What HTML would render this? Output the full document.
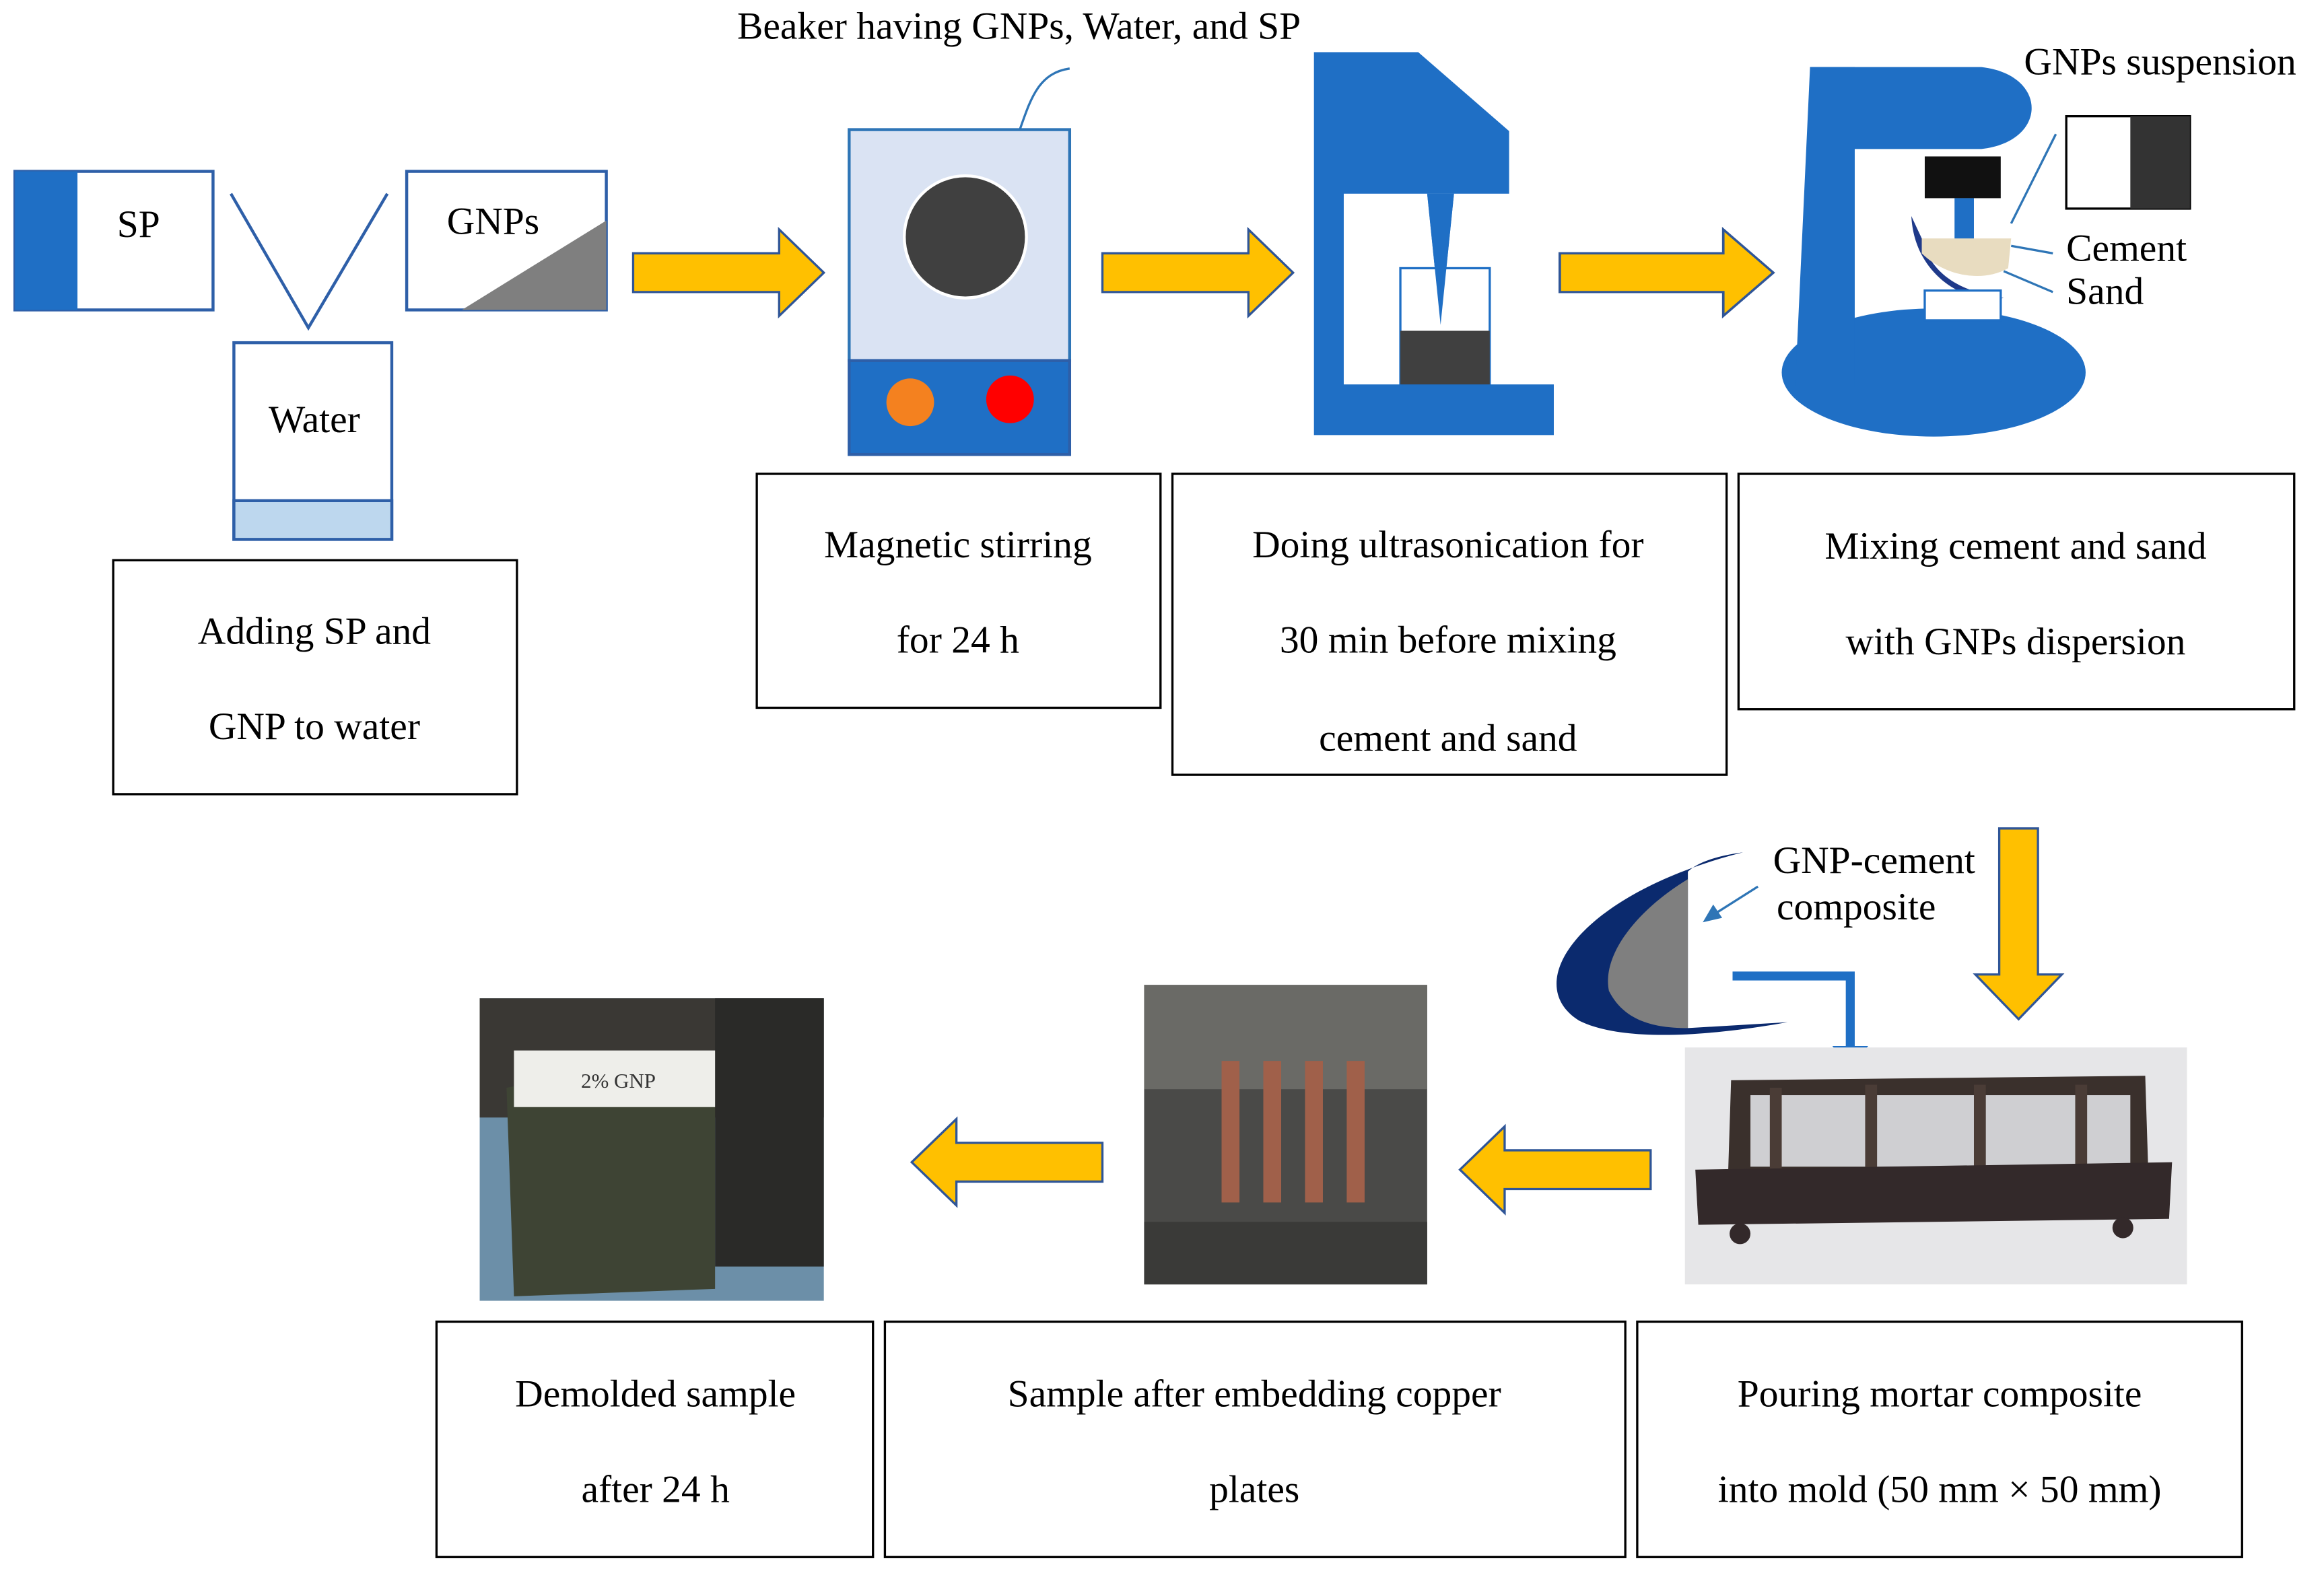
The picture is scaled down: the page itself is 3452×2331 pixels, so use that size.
<!DOCTYPE html>
<html><head><meta charset="utf-8"><style>html,body{margin:0;padding:0;background:#fff;}svg{display:block}</style></head>
<body>
<svg width="3452" height="2331" viewBox="0 0 1560 1053" preserveAspectRatio="none" xmlns="http://www.w3.org/2000/svg" font-family="'Liberation Serif', serif" font-size="26" fill="#000">
<defs>
<g id="arR"><polygon points="0,-13 98,-13 98,-29 128,0 98,29 98,13 0,13" fill="#FFC000" stroke="#2F5597" stroke-width="1.5"/></g>
</defs>
<rect width="1560" height="1053" fill="#fff"/>
<!-- SP -->
<rect x="10" y="115" width="133" height="93" fill="#fff" stroke="#2E5FA8" stroke-width="2"/>
<rect x="10" y="115" width="42" height="93" fill="#1F6FC5"/>
<text x="93" y="159" text-anchor="middle">SP</text>
<polyline points="155,130 207,220 260,130" fill="none" stroke="#2E5FA8" stroke-width="2"/>
<!-- GNPs -->
<rect x="273" y="115" width="134" height="93" fill="#fff" stroke="#2E5FA8" stroke-width="2"/>
<polygon points="310,208 407,208 407,148" fill="#7F7F7F"/>
<text x="331" y="157" text-anchor="middle">GNPs</text>
<!-- Water -->
<rect x="157" y="230" width="106" height="132" fill="#fff" stroke="#2E5FA8" stroke-width="2"/>
<rect x="157" y="336" width="106" height="26" fill="#BDD7EE" stroke="#2E5FA8" stroke-width="2"/>
<text x="211" y="290" text-anchor="middle">Water</text>
<rect x="76" y="376" width="271" height="157" fill="none" stroke="#000" stroke-width="1.5"/>
<text x="211" y="432" text-anchor="middle">Adding SP and</text>
<text x="211" y="496" text-anchor="middle">GNP to water</text>
<!-- arrows -->
<use href="#arR" transform="translate(425,183)"/>
<use href="#arR" transform="translate(740,183)"/>
<g transform="translate(1047,183) scale(1.12,1)"><use href="#arR"/></g>
<!-- stirrer -->
<text x="684" y="26" text-anchor="middle">Beaker having GNPs, Water, and SP</text>
<path d="M718,46 C690,50 690,80 676,108" fill="none" stroke="#2E75B6" stroke-width="1.5"/>
<polygon points="670,112 672,98 684,104" fill="#2E75B6"/>
<rect x="570" y="87" width="148" height="155" fill="#DAE3F3" stroke="#2E75B6" stroke-width="2"/>
<rect x="570" y="242" width="148" height="63" fill="#1F6FC5" stroke="#2E5FA8" stroke-width="2"/>
<circle cx="648" cy="159" r="41" fill="#404040" stroke="#fff" stroke-width="2"/>
<circle cx="611" cy="270" r="16" fill="#F4811F"/>
<circle cx="678" cy="268" r="16" fill="#FF0000"/>
<rect x="508" y="318" width="271" height="157" fill="none" stroke="#000" stroke-width="1.5"/>
<text x="643" y="374" text-anchor="middle">Magnetic stirring</text>
<text x="643" y="438" text-anchor="middle">for 24 h</text>
<!-- sonicator -->
<polygon points="882,35 952,35 1013,88 1013,130 902,130 902,258 1043,258 1043,292 882,292" fill="#1F6FC5"/>
<polygon points="958,130 976,130 967,218" fill="#1F6FC5"/>
<rect x="940" y="180" width="60" height="78" fill="#fff" stroke="#1F6FC5" stroke-width="1.5"/>
<rect x="940" y="222" width="60" height="36" fill="#404040"/>
<polygon points="958,130 976,130 967,218" fill="#1F6FC5"/>
<rect x="787" y="318" width="372" height="202" fill="none" stroke="#000" stroke-width="1.5"/>
<text x="972" y="374" text-anchor="middle">Doing ultrasonication for</text>
<text x="972" y="438" text-anchor="middle">30 min before mixing</text>
<text x="972" y="504" text-anchor="middle">cement and sand</text>
<!-- mixer -->
<ellipse cx="1298" cy="250" rx="102" ry="43" fill="#1F6FC5"/>
<polygon points="1205,260 1215,45 1245,45 1245,260" fill="#1F6FC5"/>
<path d="M1215,45 L1330,45 C1375,50 1375,95 1330,100 L1215,100 Z" fill="#1F6FC5"/>
<rect x="1292" y="105" width="51" height="28" fill="#111"/>
<rect x="1312" y="133" width="13" height="40" fill="#1F6FC5"/>
<path d="M1283,145 C1285,185 1320,205 1345,200 C1310,195 1295,180 1290,160 Z" fill="#1F3A8A"/>
<rect x="1292" y="195" width="51" height="20" fill="#fff" stroke="#1F6FC5" stroke-width="1.5"/>
<path d="M1290,160 L1350,160 L1348,180 C1330,190 1305,185 1290,170 Z" fill="#E8DCC0"/>
<line x1="1350" y1="150" x2="1380" y2="90" stroke="#2E75B6" stroke-width="1.5"/>
<line x1="1350" y1="165" x2="1378" y2="170" stroke="#2E75B6" stroke-width="1.5"/>
<line x1="1345" y1="182" x2="1378" y2="196" stroke="#2E75B6" stroke-width="1.5"/>
<text x="1450" y="50" text-anchor="middle">GNPs suspension</text>
<rect x="1387" y="78" width="83" height="62" fill="#fff" stroke="#000" stroke-width="1.5"/>
<rect x="1430" y="78" width="40" height="62" fill="#333"/>
<text x="1387" y="175">Cement</text>
<text x="1387" y="204">Sand</text>
<rect x="1167" y="318" width="373" height="158" fill="none" stroke="#000" stroke-width="1.5"/>
<text x="1353" y="375" text-anchor="middle">Mixing cement and sand</text>
<text x="1353" y="439" text-anchor="middle">with GNPs dispersion</text>
<!-- down arrow -->
<polygon points="1342,556 1368,556 1368,654 1384,654 1355,684 1326,654 1342,654" fill="#FFC000" stroke="#2F5597" stroke-width="1.5"/>
<!-- composite -->
<path d="M1170,572 C1060,600 1020,660 1060,685 C1090,700 1150,695 1200,686 L1133,690 L1133,585 C1140,578 1155,574 1170,572 Z" fill="#0B2A6E"/>
<path d="M1133,590 C1100,610 1075,640 1080,665 C1090,685 1110,690 1133,690 Z" fill="#7F7F7F"/>
<text x="1258" y="586" text-anchor="middle">GNP-cement</text>
<text x="1246" y="617" text-anchor="middle">composite</text>
<line x1="1180" y1="595" x2="1150" y2="614" stroke="#2E75B6" stroke-width="1.5"/>
<polygon points="1143,619 1150,607 1156,616" fill="#2E75B6"/>
<polyline points="1163,655 1242,655 1242,705" fill="none" stroke="#1F6FC5" stroke-width="6"/>
<polygon points="1230,702 1254,702 1242,718" fill="#1F6FC5"/>
<!-- mold photo -->
<rect x="1131" y="703" width="337" height="159" fill="#E6E6E8"/>
<polygon points="1162,725 1440,722 1442,785 1160,788" fill="#3A302C"/>
<rect x="1175" y="735" width="255" height="48" fill="#CFCFD2"/>
<rect x="1188" y="730" width="8" height="55" fill="#4A3C36"/>
<rect x="1252" y="728" width="8" height="57" fill="#4A3C36"/>
<rect x="1325" y="728" width="8" height="57" fill="#4A3C36"/>
<rect x="1393" y="728" width="8" height="57" fill="#4A3C36"/>
<polygon points="1138,785 1458,780 1456,818 1140,822" fill="#33292A"/>
<circle cx="1168" cy="828" r="7" fill="#33292A"/><circle cx="1425" cy="824" r="7" fill="#33292A"/>
<rect x="1099" y="887" width="406" height="158" fill="none" stroke="#000" stroke-width="1.5"/>
<text x="1302" y="944" text-anchor="middle">Pouring mortar composite</text>
<text x="1302" y="1008" text-anchor="middle">into mold (50 mm × 50 mm)</text>
<!-- left arrows -->
<g transform="translate(1108,785) scale(-1,1)"><use href="#arR"/></g>
<g transform="translate(740,780) scale(-1,1)"><use href="#arR"/></g>
<!-- photo 2 -->
<rect x="768" y="661" width="190" height="201" fill="#4A4A48"/>
<rect x="768" y="661" width="190" height="70" fill="#6A6A66"/>
<rect x="768" y="820" width="190" height="42" fill="#3A3A38"/>
<rect x="820" y="712" width="12" height="95" fill="#A0604A"/>
<rect x="848" y="712" width="12" height="95" fill="#A0604A"/>
<rect x="876" y="712" width="12" height="95" fill="#A0604A"/>
<rect x="904" y="712" width="12" height="95" fill="#A0604A"/>
<rect x="594" y="887" width="497" height="158" fill="none" stroke="#000" stroke-width="1.5"/>
<text x="842" y="944" text-anchor="middle">Sample after embedding copper</text>
<text x="842" y="1008" text-anchor="middle">plates</text>
<!-- photo 1 -->
<rect x="322" y="670" width="231" height="203" fill="#6C8FA8"/>
<rect x="322" y="670" width="231" height="80" fill="#3A3834"/>
<rect x="480" y="670" width="73" height="180" fill="#2A2A28"/>
<polygon points="340,730 420,715 480,730 480,865 345,870" fill="#3E4434"/>
<rect x="345" y="705" width="135" height="38" fill="#EEEEEA"/>
<text x="390" y="730" font-size="14" fill="#333">2% GNP</text>
<rect x="293" y="887" width="293" height="158" fill="none" stroke="#000" stroke-width="1.5"/>
<text x="440" y="944" text-anchor="middle">Demolded sample</text>
<text x="440" y="1008" text-anchor="middle">after 24 h</text>
</svg>
</body></html>
